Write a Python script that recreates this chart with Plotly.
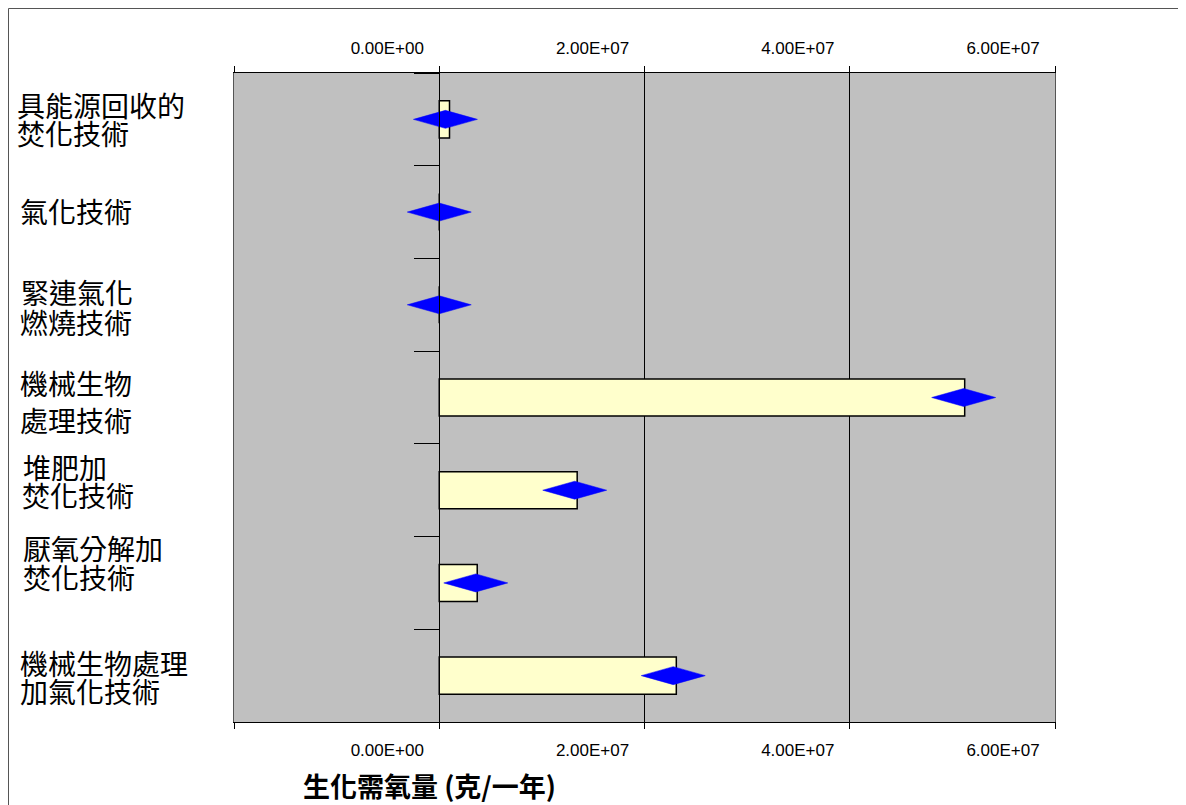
import plotly.graph_objects as go

# ---------------- data ----------------
categories = [
    "具能源回收的<br>焚化技術",
    "氣化技術",
    "緊連氣化<br>燃燒技術",
    "機械生物<br>處理技術",
    "堆肥加<br>焚化技術",
    "厭氧分解加<br>焚化技術",
    "機械生物處理<br>加氣化技術",
]
bar_values = [1.0e6, 0.0, 0.0, 5.12e7, 1.344e7, 3.7e6, 2.31e7]
diamond_values = [6.0e5, 0.0, 0.0, 5.11e7, 1.32e7, 3.56e6, 2.28e7]
tick_values = [-2e7, 0, 2e7, 4e7, 6e7]
tick_labels = ["", "0.00E+00", "2.00E+07", "4.00E+07", "6.00E+07"]
axis_title = "生化需氧量 (克/一年)"

# ---------------- layout constants (page pixels) ----------------
OFF = 8                      # default body margin of the html page
PAGE_W, PAGE_H = 1186, 805
W, H = PAGE_W - OFF, PAGE_H - OFF
PLOT_L, PLOT_R, PLOT_T, PLOT_B = 234, 1055, 73, 722   # page coords of plot area
ML, MR, MT, MB = PLOT_L - OFF, PAGE_W - PLOT_R, PLOT_T - OFF, PAGE_H - PLOT_B
PW = PLOT_R - PLOT_L
PH = PLOT_B - PLOT_T
XR = [-2e7, 6e7]
YR = [6.5, -0.5]
band = PH / len(categories)

def px_to_paper_x(px):
    return (px - PLOT_L) / PW

def py_to_paper_y(py):
    return (PLOT_B - py) / PH

# diamond size in data units
half_w = 32 / PW * (XR[1] - XR[0])
half_h = 9 / band

CJK = "Noto Sans CJK TC, Noto Sans CJK SC, sans-serif"
NARROW = "Liberation Sans Narrow, Arial Narrow, Liberation Sans, Arial, sans-serif"

ypos = list(range(len(categories)))

fig = go.Figure()

fig.add_trace(go.Bar(
    x=bar_values, y=ypos, orientation="h", width=0.4,
    marker=dict(color="#FFFFCC", line=dict(color="black", width=1.5)),
    showlegend=False, hoverinfo="x",
))

# wide diamonds as filled polygons computed from the values
dx, dy = [], []
for v, yy in zip(diamond_values, ypos):
    dx += [v - half_w, v, v + half_w, v, v - half_w, None]
    dy += [yy, yy - half_h, yy, yy + half_h, yy, None]
fig.add_trace(go.Scatter(
    x=dx, y=dy, mode="lines", fill="toself", fillcolor="#0000FF",
    line=dict(color="#0000FF", width=0.5), showlegend=False, hoverinfo="skip",
))

# helper invisible trace for top x axis / y axis at zero
fig.add_trace(go.Scatter(
    x=[0], y=[0], xaxis="x2", yaxis="y2", mode="markers",
    marker=dict(opacity=0), showlegend=False, hoverinfo="skip",
))

fig.update_layout(
    width=W, height=H,
    margin=dict(l=ML, r=MR, t=MT, b=MB),
    paper_bgcolor="white", plot_bgcolor="#C0C0C0",
    xaxis=dict(
        range=XR, tickvals=tick_values, ticktext=tick_labels,
        ticks="outside", ticklen=6, tickcolor="black",
        showgrid=True, gridcolor="black", gridwidth=1, zeroline=False,
        showline=True, linecolor="black", linewidth=1, mirror=True,
        tickfont=dict(family=NARROW, size=17, color="black"),
        ticklabelshift=-52, ticklabelstandoff=7,
    ),
    xaxis2=dict(
        range=XR, tickvals=tick_values, ticktext=tick_labels,
        overlaying="x", side="top", anchor="y",
        ticks="outside", ticklen=6, tickcolor="black",
        showgrid=False, zeroline=False, showline=False,
        tickfont=dict(family=NARROW, size=17, color="black"),
        ticklabelshift=-52, ticklabelstandoff=5,
    ),
    yaxis=dict(
        range=YR, showticklabels=False, ticks="", showgrid=False, zeroline=False,
        showline=True, linecolor="#555555", linewidth=1, mirror=True,
    ),
    yaxis2=dict(
        range=YR, overlaying="y", anchor="free", position=0.25, side="left",
        tickvals=[i - 0.5 for i in range(len(categories) + 1)],
        ticks="outside", ticklen=25, tickcolor="black",
        showticklabels=False, showgrid=False, zeroline=False,
        showline=True, linecolor="black", linewidth=1,
    ),
)

# category labels (each line as its own annotation to control line spacing)
label_line_px = [
    [(15, 105), (15, 133)],
    [(18, 211)],
    [(19, 292), (18, 322)],
    [(18, 383), (18, 420)],
    [(21, 467), (20, 495)],
    [(21, 548), (21, 577)],
    [(18, 663), (18, 691)],
]
for i, (cat, pos) in enumerate(zip(categories, label_line_px)):
    lines = cat.split("<br>")
    center_py = PLOT_T + band * (i + 0.5)
    for text, (px, py) in zip(lines, pos):
        fig.add_annotation(
            text=text, xref="paper", x=px_to_paper_x(px), xanchor="left",
            yref="y", y=i, yanchor="middle", yshift=center_py - py,
            showarrow=False, align="left",
            font=dict(family=CJK, size=28, color="black"),
        )

fig.add_annotation(
    text="<b>" + axis_title + "</b>", xref="paper", x=px_to_paper_x(429), xanchor="center",
    yref="paper", y=py_to_paper_y(785), yanchor="middle", showarrow=False,
    font=dict(family=CJK, size=27, color="black"),
)

# outer frame
fig.add_shape(
    type="rect", xref="paper", yref="paper",
    x0=px_to_paper_x(8.5), x1=px_to_paper_x(1183),
    y0=py_to_paper_y(830), y1=py_to_paper_y(8.5),
    line=dict(color="#555555", width=1), fillcolor="rgba(0,0,0,0)", layer="below",
)

fig.write_html("out.html")
